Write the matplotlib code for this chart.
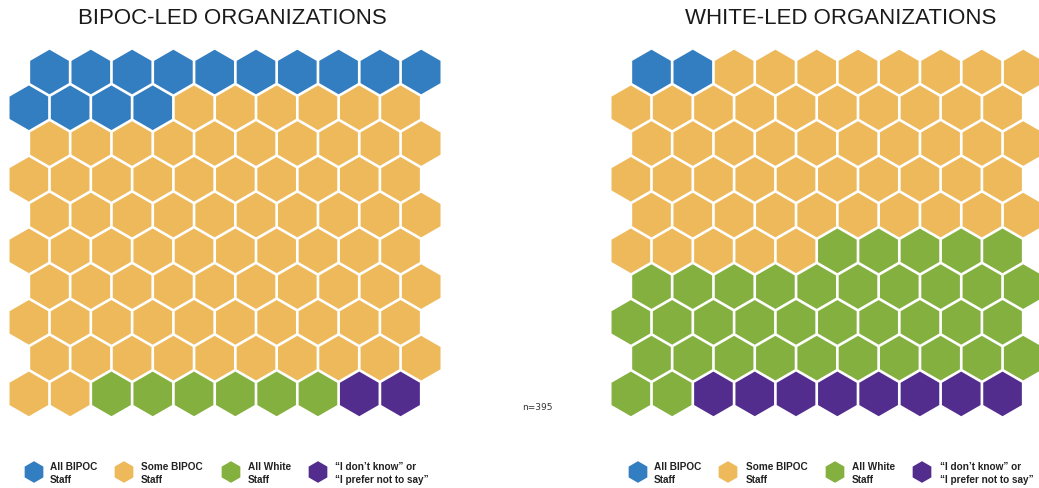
import matplotlib.pyplot as plt
from matplotlib.patches import RegularPolygon

# ============================================================
# DATA (out of 100 hexagons per group)
# ============================================================

categories = ["All BIPOC\nStaff", "Some BIPOC\nStaff", "All White\nStaff",
              "\u201cI don\u2019t know\u201d or\n\u201cI prefer not to say\u201d"]
colors = ["#337DC1", "#EDB95B", "#84B040", "#522D8E"]

bipoc_led = [14, 78, 6, 2]
white_led = [2, 53, 37, 8]

titles = ["BIPOC-LED ORGANIZATIONS", "WHITE-LED ORGANIZATIONS"]
n_label = "n=395"

# ============================================================
# LAYOUT (pixels)
# ============================================================

W, H = 1039, 489
COLS, ROWS = 10, 10
DX = 41.3                 # horizontal spacing of hexes
DY = DX * 3 ** 0.5 / 2    # vertical spacing
R = 22.3                  # hex circumradius
ROW1_Y = 73

grid_x0 = [49.5, 651.5]   # centre of first hex in row 1
title_x = [232, 841]
legend_marker_x = [[34, 124, 231, 318], [638, 728, 835, 922]]
legend_text_x = [[50, 141, 248, 335], [654, 746, 852, 940]]

fig = plt.figure(figsize=(W / 100, H / 100), dpi=100)
ax = fig.add_axes([0, 0, 1, 1])
ax.set_xlim(0, W)
ax.set_ylim(H, 0)
ax.axis("off")


def draw_grid(counts, x0):
    fills = []
    for c, n in zip(colors, counts):
        fills += [c] * n
    k = 0
    for row in range(ROWS):
        shift = 0 if row % 2 == 0 else -DX / 2
        for col in range(COLS):
            cx = x0 + shift + col * DX
            cy = ROW1_Y + row * DY
            ax.add_patch(RegularPolygon((cx, cy), numVertices=6, radius=R,
                                        orientation=0, facecolor=fills[k],
                                        edgecolor="none"))
            k += 1


for g, counts in enumerate([bipoc_led, white_led]):
    draw_grid(counts, grid_x0[g])

    ax.text(title_x[g], 18, titles[g], ha="center", va="center",
            fontsize=16, color="#1a1a1a", family="Liberation Sans")

    # legend
    for i, lab in enumerate(categories):
        ax.add_patch(RegularPolygon((legend_marker_x[g][i], 473), numVertices=6,
                                    radius=10.8, orientation=0,
                                    facecolor=colors[i], edgecolor="none"))
        ax.text(legend_text_x[g][i], 473.5, lab, ha="left", va="center",
                fontsize=7.2, fontweight="bold", color="#222222",
                linespacing=1.35, family=["Liberation Sans", "DejaVu Sans"])

ax.text(537, 408, n_label, ha="center", va="center", fontsize=6.5,
        color="#333333")

fig.savefig("out.png", dpi=100)
